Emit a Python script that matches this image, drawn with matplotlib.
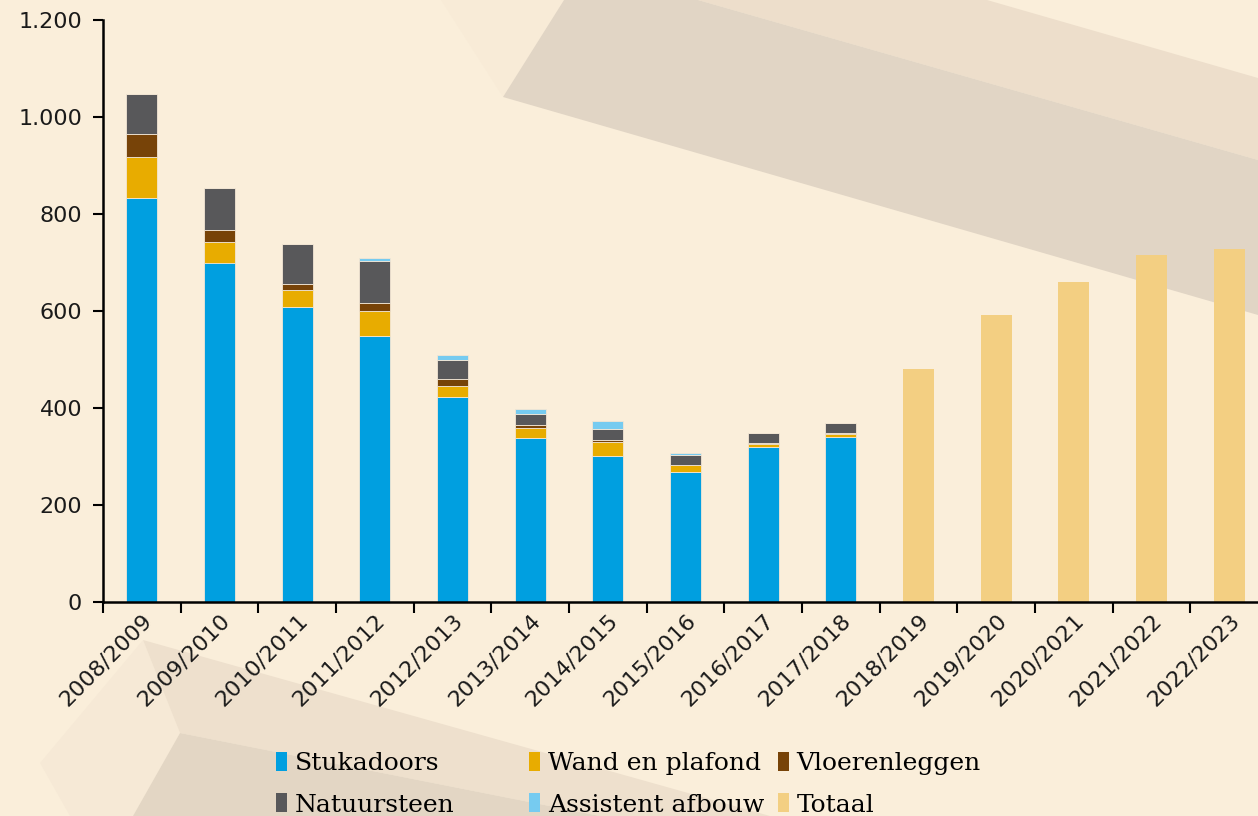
import numpy as np
import matplotlib
matplotlib.use('Agg')
import matplotlib.pyplot as plt
from matplotlib.patches import Polygon, Patch

# data
years = ['2008/2009', '2009/2010', '2010/2011', '2011/2012', '2012/2013',
         '2013/2014', '2014/2015', '2015/2016', '2016/2017', '2017/2018',
         '2018/2019', '2019/2020', '2020/2021', '2021/2022', '2022/2023']
stukadoors = [834, 700, 608, 548, 423, 339, 302, 269, 320, 341]
wand_plafond = [84, 42, 36, 53, 22, 20, 28, 13, 6, 5]
vloerenleggen = [47, 24, 11, 15, 14, 5, 4, 1, 2, 2]
natuursteen = [83, 87, 84, 88, 40, 24, 22, 20, 20, 22]
assistent = [0, 0, 0, 5, 10, 9, 17, 4, 0, 0]
totaal = [480, 592, 660, 715, 728]

colors = {
    'Stukadoors': '#009FE0',
    'Wand en plafond': '#E8AC00',
    'Vloerenleggen': '#774308',
    'Natuursteen': '#58585A',
    'Assistent afbouw': '#76CBF0',
    'Totaal': '#F3CF82',
}

W, H = 1258, 816
bg = '#FAEEDA'

fig = plt.figure(figsize=(W / 100, H / 100), dpi=100, facecolor=bg)


def px(points):
    return [(x / W, 1 - y / H) for x, y in points]


# background decoration (figure pixel coords)
shapes = [
    ([(441, 0), (564, 0), (503, 97)], '#F8EBD7'),
    ([(698, 0), (987, 0), (1258, 78), (1258, 160)], '#EDDECB'),
    ([(564, 0), (698, 0), (1258, 160), (1258, 315), (503, 97)], '#E1D5C5'),
    ([(143, 640), (180, 733), (133, 816), (70, 816), (40, 763)], '#F6E9D6'),
    ([(143, 640), (770, 816), (600, 816), (180, 733)], '#EEE0CD'),
    ([(180, 733), (600, 816), (133, 816)], '#E3D6C4'),
]
for pts, c in shapes:
    fig.patches.append(Polygon(px(pts), closed=True, transform=fig.transFigure,
                               facecolor=c, edgecolor='none', zorder=0))

ax = fig.add_axes([103 / W, 1 - 602 / H, 1165 / W, 582 / H])
ax.patch.set_visible(False)
ax.set_zorder(5)

x = np.arange(len(years))
n_hist = len(stukadoors)
xh = x[:n_hist]
width = 0.4
edge = dict(edgecolor='#F3E6D4', linewidth=0.6)

bottom = np.zeros(n_hist)
for name, vals in [('Stukadoors', stukadoors), ('Wand en plafond', wand_plafond),
                   ('Vloerenleggen', vloerenleggen), ('Natuursteen', natuursteen),
                   ('Assistent afbouw', assistent)]:
    vals = np.array(vals, dtype=float)
    ax.bar(xh, vals, width, bottom=bottom, color=colors[name], **edge)
    bottom += vals

ax.bar(x[n_hist:], totaal, width, color=colors['Totaal'], edgecolor='none')

ax.set_xlim(-0.5, len(years) - 0.5)
ax.set_ylim(0, 1200)
ax.set_yticks(range(0, 1201, 200))
ax.set_yticklabels(['0', '200', '400', '600', '800', '1.000', '1.200'],
                   fontsize=16, family='DejaVu Sans', color='#1A1A1A')
ax.tick_params(axis='y', direction='out', length=7, width=1.5, pad=8)

ax.set_xticks(x)
ax.set_xticklabels(years, rotation=45, ha='right', rotation_mode='anchor',
                   fontsize=16, family='DejaVu Sans', color='#1A1A1A')
ax.tick_params(axis='x', which='major', length=0, pad=6)
ax.set_xticks(np.arange(-0.5, len(years), 1), minor=True)
ax.tick_params(axis='x', which='minor', direction='out', length=8, width=1.5)

for s in ['top', 'right']:
    ax.spines[s].set_visible(False)
for s in ['left', 'bottom']:
    ax.spines[s].set_linewidth(1.8)

# legend split in three columns, placed like the original
legend_cols = [
    (276, ['Stukadoors', 'Natuursteen']),
    (529, ['Wand en plafond', 'Assistent afbouw']),
    (778, ['Vloerenleggen', 'Totaal']),
]
for xpos, names in legend_cols:
    handles = [Patch(facecolor=colors[n], edgecolor='none') for n in names]
    leg = fig.legend(handles, names, loc='upper left',
                     bbox_to_anchor=(xpos / W, 1 - 752 / H),
                     frameon=False, borderpad=0, borderaxespad=0,
                     handlelength=0.45, handleheight=0.8, handletextpad=0.3,
                     labelspacing=0.72,
                     prop={'family': 'DejaVu Serif', 'size': 18})
    leg.set_zorder(6)

fig.savefig('out.png', dpi=100, facecolor=bg)
